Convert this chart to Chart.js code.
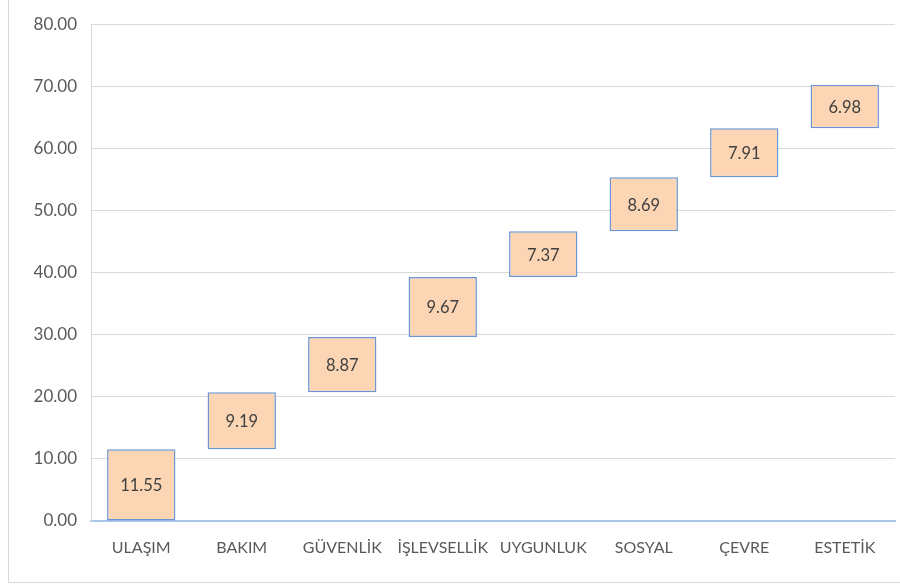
<!DOCTYPE html>
<html><head><meta charset="utf-8">
<script src="https://cdn.jsdelivr.net/npm/chart.js@4"></script>
<style>
html,body{margin:0;padding:0;background:#fff;}
#wrap{position:relative;width:900px;height:588px;}
#frame{position:absolute;left:8px;top:-1px;width:900px;height:584px;border:1px solid #d9d9d9;box-sizing:border-box;pointer-events:none;}
canvas{position:absolute;left:0;top:0;}
</style></head>
<body>
<div id="wrap"><canvas id="c" width="900" height="588"></canvas><div id="frame"></div></div>
<script>
const categories = ["ULAŞIM","BAKIM","GÜVENLİK","İŞLEVSELLİK","UYGUNLUK","SOSYAL","ÇEVRE","ESTETİK"];
const values = [11.55, 9.19, 8.87, 9.67, 7.37, 8.69, 7.91, 6.98];
const yTicks = [0,10,20,30,40,50,60,70,80];

const ranges = [];
let run = 0;
for (const v of values) { ranges.push([run, run + v]); run += v; }

const FONT = 'Lato, "Open Sans", sans-serif';

const labelPlugin = {
  id: 'barLabels',
  afterDatasetsDraw(chart) {
    const ctx = chart.ctx;
    const meta = chart.getDatasetMeta(0);
    ctx.save();
    ctx.font = '16.5px ' + FONT;
    ctx.fillStyle = '#404040';
    ctx.textAlign = 'center';
    ctx.textBaseline = 'middle';
    meta.data.forEach((bar, i) => {
      const p = bar.getProps(['x','y','base'], true);
      ctx.fillText(values[i].toFixed(2), p.x, (p.y + p.base) / 2 + 1);
    });
    ctx.restore();
  }
};

new Chart(document.getElementById('c'), {
  type: 'bar',
  data: {
    labels: categories,
    datasets: [{
      data: ranges,
      backgroundColor: '#fcd5b4',
      borderColor: '#6a95d2',
      borderWidth: 1.5,
      borderSkipped: false,
      categoryPercentage: 0.68,
      barPercentage: 1.0
    }]
  },
  options: {
    responsive: false,
    animation: false,
    devicePixelRatio: 1,
    layout: { padding: { left: 10, right: 5, top: 22, bottom: 5 } },
    plugins: { legend: { display: false }, tooltip: { enabled: false } },
    scales: {
      x: {
        grid: { display: false, drawTicks: false },
        border: { color: '#a9c5e8', width: 2 },
        ticks: { color: '#595959', font: { size: 16, family: FONT }, padding: 17, maxRotation: 0, autoSkip: false },
        afterFit(s) { s.height = 62; }
      },
      y: {
        min: 0, max: 80,
        afterBuildTicks(s) { s.ticks = yTicks.map(v => ({ value: v })); },
        grid: { color: '#d9d9d9', lineWidth: 1, drawTicks: false },
        border: { color: '#d9d9d9', width: 1 },
        ticks: { color: '#595959', font: { size: 17, family: FONT }, padding: 14, callback: v => Number(v).toFixed(2) },
        afterFit(s) { s.width = 81; }
      }
    }
  },
  plugins: [labelPlugin]
});
</script>
</body></html>
